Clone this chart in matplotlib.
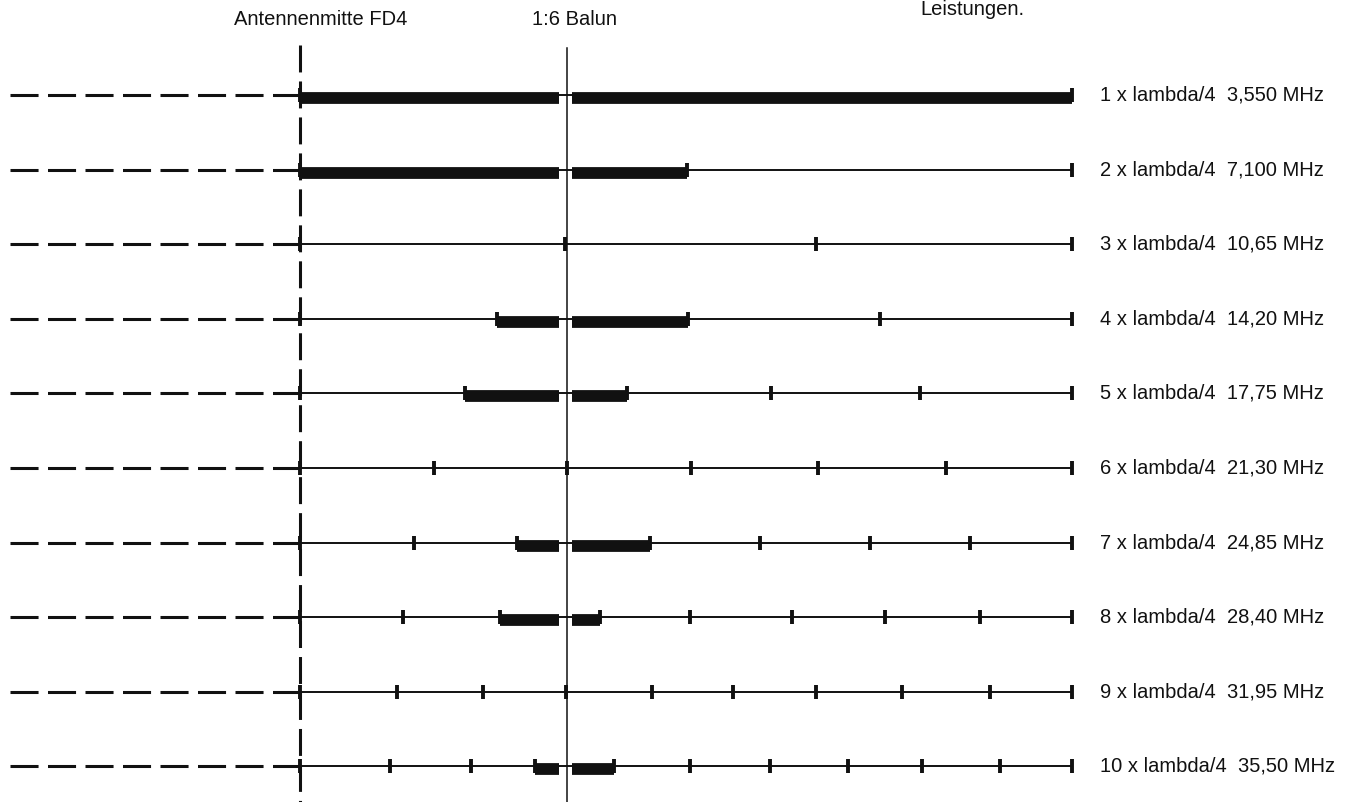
import matplotlib
matplotlib.use("Agg")
import matplotlib.pyplot as plt

plt.rcParams["font.family"] = ["Liberation Sans", "DejaVu Sans"]
plt.rcParams["lines.scale_dashes"] = False

# one half of the FD4, metres measured from the antenna centre
half_length = 20.5
balun_pos = 7.09
other_half_shown = 7.7

harmonics = [1, 2, 3, 4, 5, 6, 7, 8, 9, 10]
freqs = ["3,550", "7,100", "10,65", "14,20", "17,75",
         "21,30", "24,85", "28,40", "31,95", "35,50"]

# lambda/4 points along the wire for each harmonic
nodes = [
    [0.0, 20.5],
    [0.0, 10.28, 20.5],
    [0.0, 7.05, 13.70, 20.5],
    [0.0, 5.23, 10.30, 15.39, 20.5],
    [0.0, 4.38, 8.68, 12.50, 16.46, 20.5],
    [0.0, 3.56, 7.10, 10.38, 13.75, 17.15, 20.5],
    [0.0, 3.03, 5.76, 9.29, 12.21, 15.13, 17.79, 20.5],
    [0.0, 2.73, 5.31, 7.97, 10.36, 13.06, 15.53, 18.05, 20.5],
    [0.0, 2.58, 4.86, 7.06, 9.35, 11.50, 13.70, 15.98, 18.32, 20.5],
    [0.0, 2.39, 4.54, 6.24, 8.34, 10.35, 12.48, 14.55, 16.51, 18.59, 20.5],
]

ink = "#111111"
px = half_length / 772  # metres per pixel of the drawing

fig = plt.figure(figsize=(13.55, 8.02), dpi=100)
ax = fig.add_axes([0, 0, 1, 1])
ax.set_xlim(-300 * px, 1055 * px)
ax.set_ylim(10.477, -0.273)
ax.axis("off")

# antenna centre and balun position
ax.plot([0, 0], [0.33, 10.5], color=ink, lw=2.2, dashes=(19.4, 6.5))
ax.plot([balun_pos, balun_pos], [0.37, 10.5], color=ink, lw=1.1)

for row, (n, f, pts) in enumerate(zip(harmonics, freqs, nodes), start=1):
    # other half of the antenna, only hinted
    ax.plot([-other_half_shown, 0], [row, row], color=ink, lw=2.2,
            dashes=(20.2, 6.8))
    ax.plot([0, half_length], [row, row], color=ink, lw=1.4)

    # segment that contains the balun carries the current
    lo = max(p for p in pts if p <= balun_pos + 0.1)
    hi = min(p for p in pts if p >= balun_pos - 0.1)
    if hi - lo > 0.2:
        yb = row + 0.04
        ax.plot([lo, balun_pos - 0.21], [yb, yb], color=ink, lw=8.5,
                solid_capstyle="butt")
        ax.plot([balun_pos + 0.12, hi], [yb, yb], color=ink, lw=8.5,
                solid_capstyle="butt")

    ax.plot(pts, [row] * len(pts), ls="none", marker="|", ms=10,
            mew=2.8, color=ink)

    ax.text(half_length + 28 * px, row, f"{n} x lambda/4  {f} MHz",
            fontsize=14.5, ha="left", va="center", color=ink)

ax.text(21 * px, -0.005, "Antennenmitte FD4", fontsize=14.5,
        ha="center", va="center", color=ink)
ax.text(balun_pos + 8 * px, -0.005, "1:6 Balun", fontsize=14.5,
        ha="center", va="center", color=ink)
ax.text(672 * px, -0.14, "Leistungen.", fontsize=14.5,
        ha="center", va="center", color=ink)

fig.savefig("out.png", dpi=100)
